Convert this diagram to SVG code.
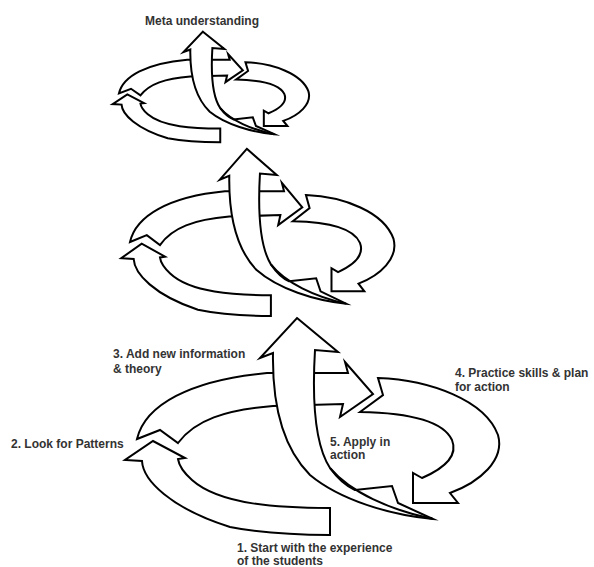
<svg xmlns="http://www.w3.org/2000/svg" xmlns:xlink="http://www.w3.org/1999/xlink" width="594" height="567" viewBox="0 0 594 567">
<style>
.ar{fill:#fff;stroke:#000;stroke-width:2;stroke-linejoin:miter;stroke-miterlimit:10;vector-effect:non-scaling-stroke}
.ln{fill:none;stroke:#000;stroke-width:2;vector-effect:non-scaling-stroke}
.lb{font-family:"Liberation Sans",Arial,sans-serif;font-weight:bold;font-size:12px;fill:#333}
</style>
<defs>
<g id="cycle">
<path class="ar" d="M330,508 C280,508 220,505 192,480 C183,472 179,466 178,459 L185,458 L153,441 L125,460 L142,461 C143,480 170,508 230,527 C265,534 300,535 330,535 Z"/>
<path class="ar" d="M137,439 C145,405 190,380 267,373 L348,373 L345,362 L373,394 L340,417 L343,404 L273,406 C225,410 195,420 178,443 L160,430 Z"/>
<path class="ar" d="M378,378 C430,380 485,400 498,435 C505,460 480,482 450,493 L458,503 L413,503 L413,473 L422,478 C445,468 458,455 452,440 C445,425 420,413 360,412 L383,395 Z"/>
<path class="ar" d="M297,318 L338,352 L315,350 C312,400 315,445 330,468 C340,482 348,487 355,490 L392,486 L398,503 L433,519 C390,515 340,500 310,475 C285,450 272,410 273,353 L260,358 Z"/>
<path class="ln" d="M330,468 C350,492 390,510 433,519"/>
</g>
</defs>
<g id="level-3" transform="translate(47,-130.5) scale(0.525,0.51)"><use xlink:href="#cycle" href="#cycle"/></g>
<g id="level-2" transform="translate(30,-96) scale(0.73,0.77)"><use xlink:href="#cycle" href="#cycle"/></g>
<g id="level-1"><use xlink:href="#cycle" href="#cycle"/></g>
<g id="labels">
<text class="lb" x="145" y="25">Meta understanding</text>
<text class="lb" x="113" y="358">3. Add new information</text>
<text class="lb" x="113" y="373">&amp; theory</text>
<text class="lb" x="455" y="377">4. Practice skills &amp; plan</text>
<text class="lb" x="455" y="391">for action</text>
<text class="lb" x="11" y="448">2. Look for Patterns</text>
<text class="lb" x="330" y="446">5. Apply in</text>
<text class="lb" x="330" y="459">action</text>
<text class="lb" x="237" y="552">1. Start with the experience</text>
<text class="lb" x="237" y="565">of the students</text>
</g>
</svg>
